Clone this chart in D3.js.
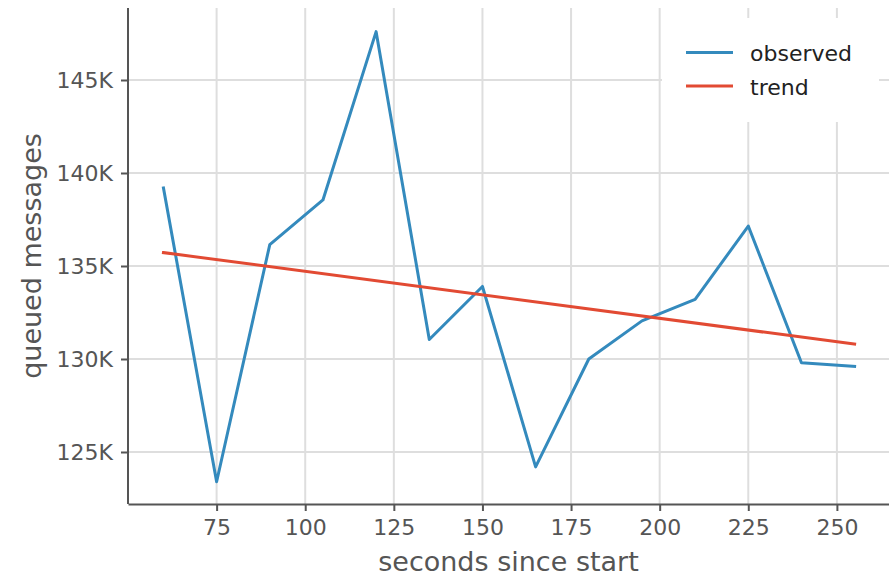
<!DOCTYPE html>
<html>
<head>
<meta charset="utf-8">
<script src="https://cdn.jsdelivr.net/npm/d3@7"></script>
<style>
  html, body { margin: 0; padding: 0; background: #fff; }
  svg { display: block; font-family: "DejaVu Sans", sans-serif; }
</style>
</head>
<body>
<svg id="chart" width="889" height="576"></svg>
<script>
// Queue depth sampled every 15 s, with a fitted linear trend.
const seconds = [60, 75, 90, 105, 120, 135, 150, 165, 180, 195, 210, 225, 240, 255];
const observed = [139200, 123400, 136150, 138550, 147600, 131050, 133900, 124200,
                  130000, 132050, 133200, 137150, 129800, 129600];
const trendSeconds = [60, 255];
const trendValues = [135720, 130800];
const xTicks = [75, 100, 125, 150, 175, 200, 225, 250];
const yTicks = [125000, 130000, 135000, 140000, 145000];
const seriesNames = ["observed", "trend"];
const seriesColors = ["#348ABD", "#E24A33"];

const svg = d3.select("#chart");
const W = 889, H = 576;
const m = { left: 128, top: 8, right: 0, bottom: 72 };
const x = d3.scaleLinear().domain([50, 264.7]).range([m.left, W - m.right]);
const y = d3.scaleLinear().domain([122204, 148871]).range([H - m.bottom, m.top]);

const gridColor = "#dedede";
const inkColor = "#555555";

// grid
const grid = svg.append("g");
grid.selectAll("line.gx").data(xTicks).join("line")
  .attr("x1", d => x(d)).attr("x2", d => x(d))
  .attr("y1", m.top).attr("y2", H - m.bottom)
  .attr("stroke", gridColor).attr("stroke-width", 2);
grid.selectAll("line.gy").data(yTicks).join("line")
  .attr("y1", d => y(d)).attr("y2", d => y(d))
  .attr("x1", m.left).attr("x2", W - m.right)
  .attr("stroke", gridColor).attr("stroke-width", 2);

// series
const line = d3.line().x(d => x(d[0])).y(d => y(d[1]));
svg.append("path")
  .datum(seconds.map((s, i) => [s, observed[i]]))
  .attr("d", line).attr("fill", "none")
  .attr("stroke", seriesColors[0]).attr("stroke-width", 3)
  .attr("stroke-linejoin", "round").attr("stroke-linecap", "square");
svg.append("path")
  .datum(trendSeconds.map((s, i) => [s, trendValues[i]]))
  .attr("d", line).attr("fill", "none")
  .attr("stroke", seriesColors[1]).attr("stroke-width", 3)
  .attr("stroke-linecap", "square");

// axes
const xAxis = svg.append("g")
  .attr("transform", `translate(0,${H - m.bottom})`)
  .call(d3.axisBottom(x).tickValues(xTicks).tickSize(7).tickPadding(8).tickSizeOuter(0));
const yAxis = svg.append("g")
  .attr("transform", `translate(${m.left},0)`)
  .call(d3.axisLeft(y).tickValues(yTicks).tickSize(7).tickPadding(8).tickSizeOuter(0)
    .tickFormat(d => (d / 1000) + "K"));
[xAxis, yAxis].forEach(g => {
  g.select(".domain").attr("stroke", inkColor).attr("stroke-width", 2);
  g.selectAll(".tick line").attr("stroke", inkColor).attr("stroke-width", 2);
  g.selectAll(".tick text").attr("fill", inkColor)
    .style("font-family", "DejaVu Sans").style("font-size", "22px");
});
yAxis.select(".domain").attr("d", `M0,${H - m.bottom}V${m.top}`);

// axis titles
svg.append("text")
  .attr("x", (m.left + W - m.right) / 2).attr("y", 571)
  .attr("text-anchor", "middle").attr("fill", inkColor)
  .style("font-size", "27px").text("seconds since start");
svg.append("text")
  .attr("transform", `translate(41,${(m.top + H - m.bottom) / 2}) rotate(-90)`)
  .attr("text-anchor", "middle").attr("fill", inkColor)
  .style("font-size", "27px").text("queued messages");

// legend
const legend = svg.append("g");
legend.append("rect")
  .attr("x", 662).attr("y", 18).attr("width", 217).attr("height", 104)
  .attr("rx", 4).attr("fill", "#fff");
const rowY = [52.5, 86];
seriesNames.forEach((name, i) => {
  legend.append("line")
    .attr("x1", 686).attr("x2", 733).attr("y1", rowY[i]).attr("y2", rowY[i])
    .attr("stroke", seriesColors[i]).attr("stroke-width", 3);
  legend.append("text")
    .attr("x", 750).attr("y", rowY[i] + 8.5)
    .attr("fill", "#222").style("font-size", "22px").text(name);
});
</script>
</body>
</html>
